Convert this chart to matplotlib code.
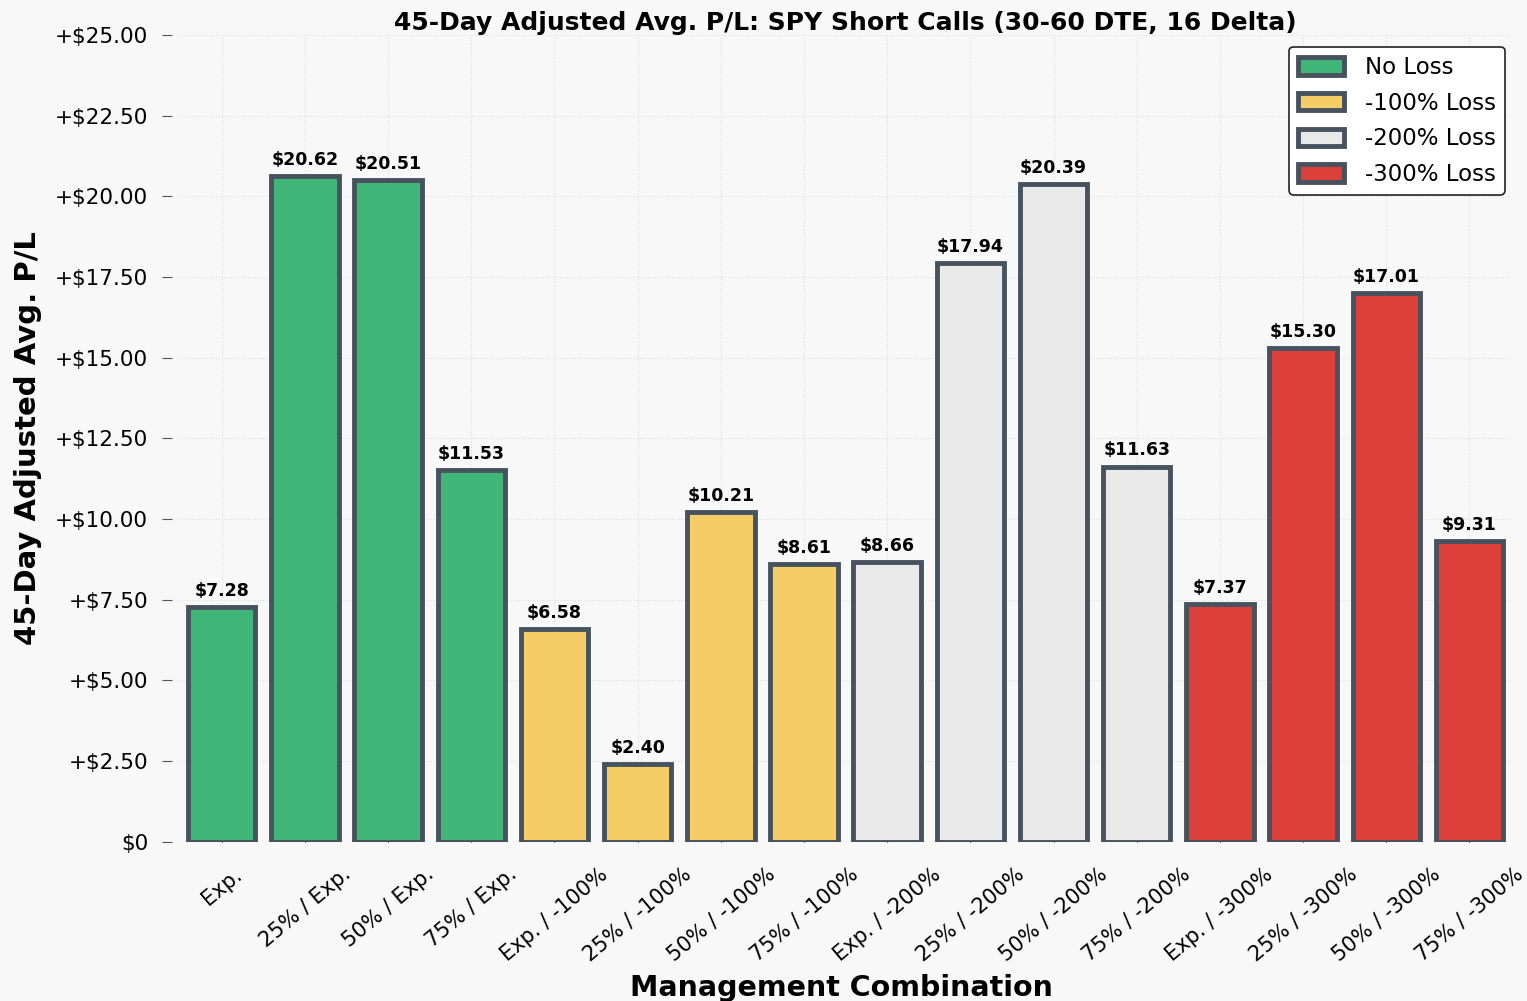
import matplotlib
matplotlib.use("Agg")
import matplotlib.pyplot as plt
from matplotlib.patches import Patch
from matplotlib.ticker import FuncFormatter

labels = ["Exp.", "25% / Exp.", "50% / Exp.", "75% / Exp.",
          "Exp. / -100%", "25% / -100%", "50% / -100%", "75% / -100%",
          "Exp. / -200%", "25% / -200%", "50% / -200%", "75% / -200%",
          "Exp. / -300%", "25% / -300%", "50% / -300%", "75% / -300%"]
values = [7.28, 20.62, 20.51, 11.53,
          6.58, 2.40, 10.21, 8.61,
          8.66, 17.94, 20.39, 11.63,
          7.37, 15.30, 17.01, 9.31]
groups = ["No Loss", "-100% Loss", "-200% Loss", "-300% Loss"]
group_colors = ["#3fb677", "#f4cd67", "#e9e9e9", "#db413a"]
edge = "#46535e"

bar_colors = [group_colors[i // 4] for i in range(len(values))]

fig = plt.figure(figsize=(15.27, 10.01), dpi=100, facecolor="#f8f8f8")
ax = fig.add_axes([0.118, 0.159, 0.8715, 0.806], facecolor="#f8f8f8")

x = list(range(len(values)))
ax.bar(x, values, width=0.81, color=bar_colors, edgecolor=edge, linewidth=3.5, zorder=3)

for xi, v in zip(x, values):
    ax.text(xi, v + 0.22, "$%.2f" % v, ha="center", va="bottom",
            fontsize=12.5, fontweight="bold", zorder=4)

ax.set_xlim(-0.5, 15.5)
ax.set_ylim(0, 25)
ax.set_yticks([0, 2.5, 5, 7.5, 10, 12.5, 15, 17.5, 20, 22.5, 25])
ax.yaxis.set_major_formatter(FuncFormatter(lambda v, p: "$0" if v == 0 else "+$%.2f" % v))
ax.set_xticks(x)
ax.set_xticklabels(labels, rotation=40, ha="center", fontsize=15)
ax.tick_params(axis="y", labelsize=15.5, length=7, width=0.8, pad=10, color="#555555")
ax.tick_params(axis="x", direction="in", length=5, pad=16)

for s in ax.spines.values():
    s.set_visible(False)
ax.spines["left"].set_position(("outward", 6))
ax.grid(True, linestyle=":", color="#dddddd", linewidth=0.8, zorder=0)

ax.set_title("45-Day Adjusted Avg. P/L: SPY Short Calls (30-60 DTE, 16 Delta)",
             fontsize=18, fontweight="bold", pad=2)
ax.set_ylabel("45-Day Adjusted Avg. P/L", fontsize=21, fontweight="bold")
ax.yaxis.set_label_coords(-0.104, 0.5)
ax.set_xlabel("Management Combination", fontsize=20.5, fontweight="bold")
ax.xaxis.set_label_coords(0.497, -0.164)

handles = [Patch(facecolor=c, edgecolor=edge, linewidth=3.5, label=g)
           for g, c in zip(groups, group_colors)]
leg = ax.legend(handles=handles, loc="upper right", fontsize=16.5, frameon=True,
                fancybox=True, framealpha=1, edgecolor="#222222",
                bbox_to_anchor=(0.999, 0.991), borderaxespad=0.2,
                handlelength=2.0, handleheight=0.8, labelspacing=0.55,
                handletextpad=0.9)
leg.get_frame().set_facecolor("white")
leg.get_frame().set_linewidth(1.2)

fig.savefig("out.png", dpi=100, facecolor=fig.get_facecolor())
